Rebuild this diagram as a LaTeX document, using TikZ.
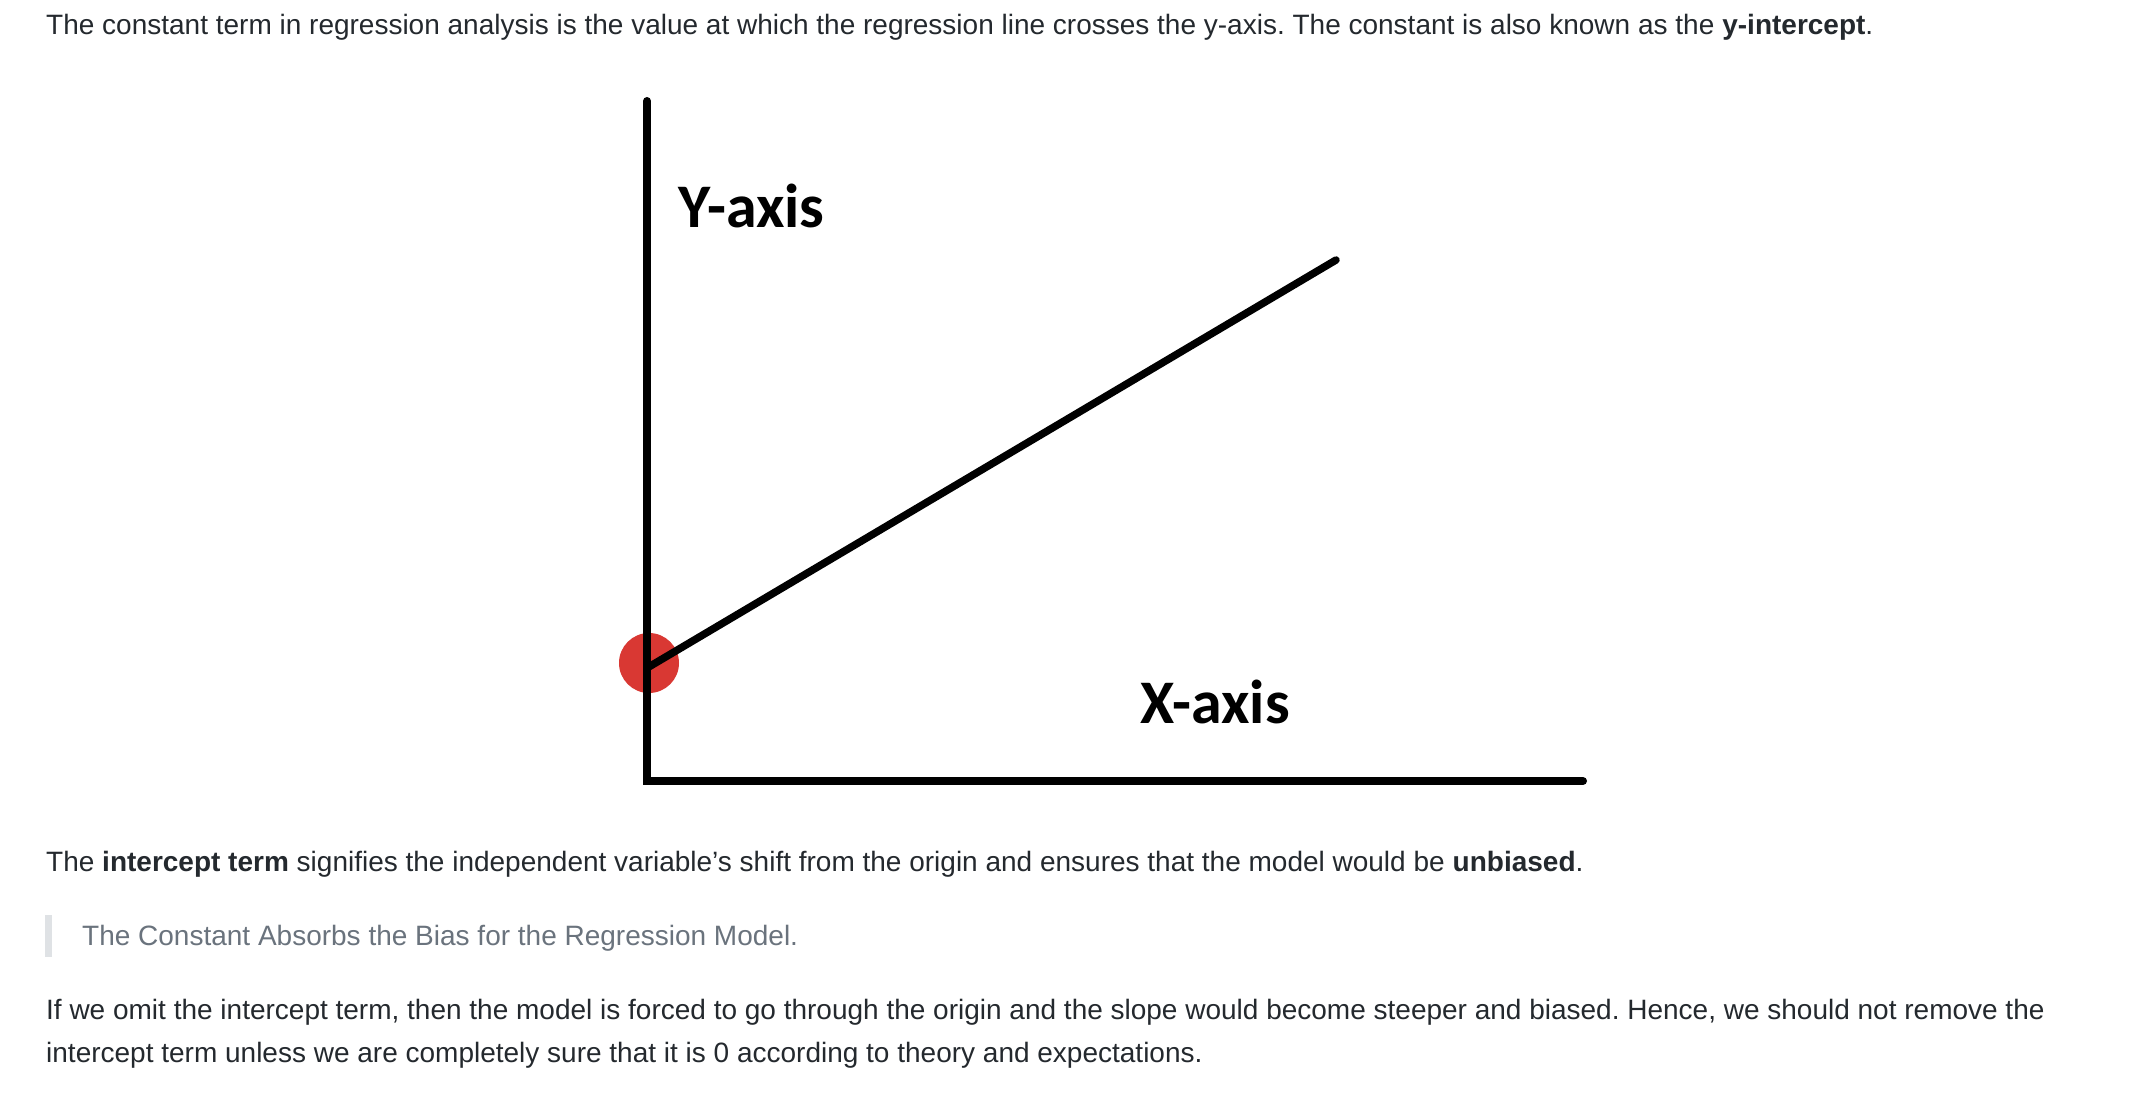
\documentclass[tikz,border=0pt]{standalone}
\usepackage{fontspec}
\newfontfamily\bodyfont{Liberation Sans}
\newfontfamily\labelfont{Carlito}
\definecolor{bodytext}{HTML}{24292E}
\definecolor{quotetext}{HTML}{6A737D}
\definecolor{quotebar}{HTML}{DFE2E5}
\definecolor{dotred}{HTML}{D93833}
\frenchspacing
\begin{document}
\begin{tikzpicture}[x=1pt,y=-1pt,
  txt/.style={anchor=base west,inner sep=0pt,text=bodytext,font=\bodyfont\fontsize{28}{34}\selectfont},
  qtxt/.style={txt,text=quotetext},
  axislabel/.style={anchor=base west,inner sep=0pt,font=\labelfont\bfseries\fontsize{62}{70}\selectfont},
  axisline/.style={line width=8pt,line cap=round,line join=miter},
  regline/.style={line width=7.5pt,line cap=round}]
\useasboundingbox[fill=white] (0,0) rectangle (2134,1094);
% text
\node[txt] (t1) at (46,35) {The constant term in regression analysis is the value at which the regression line crosses the y-axis. The constant is also known as the \textbf{y-intercept}.};
\node[txt] (t2) at (46,871) {The \textbf{intercept term} signifies the independent variable’s shift from the origin and ensures that the model would be \textbf{unbiased}.};
\fill[quotebar] (45,915) rectangle (52,957);
\node[qtxt] (q1) at (82,945) {The Constant Absorbs the Bias for the Regression Model.};
\node[txt] (t3) at (46,1019) {If we omit the intercept term, then the model is forced to go through the origin and the slope would become steeper and biased. Hence, we should not remove the};
\node[txt] (t4) at (46,1062) {intercept term unless we are completely sure that it is 0 according to theory and expectations.};
% diagram
\coordinate (ytop) at (647,101);
\coordinate (origin) at (647,781);
\coordinate (xend) at (1583,781);
\coordinate (rstart) at (647,668);
\coordinate (rend) at (1336,260);
\node[circle,fill=dotred,minimum size=60pt,inner sep=0pt] (dot) at (649,663) {};
\draw[axisline] (ytop) -- (origin) -- (xend);
\draw[regline] (rstart) -- (rend);
\node[axislabel] (ylab) at (678,228) {Y-axis};
\node[axislabel] (xlab) at (1140,723) {X-axis};
\end{tikzpicture}
\end{document}
